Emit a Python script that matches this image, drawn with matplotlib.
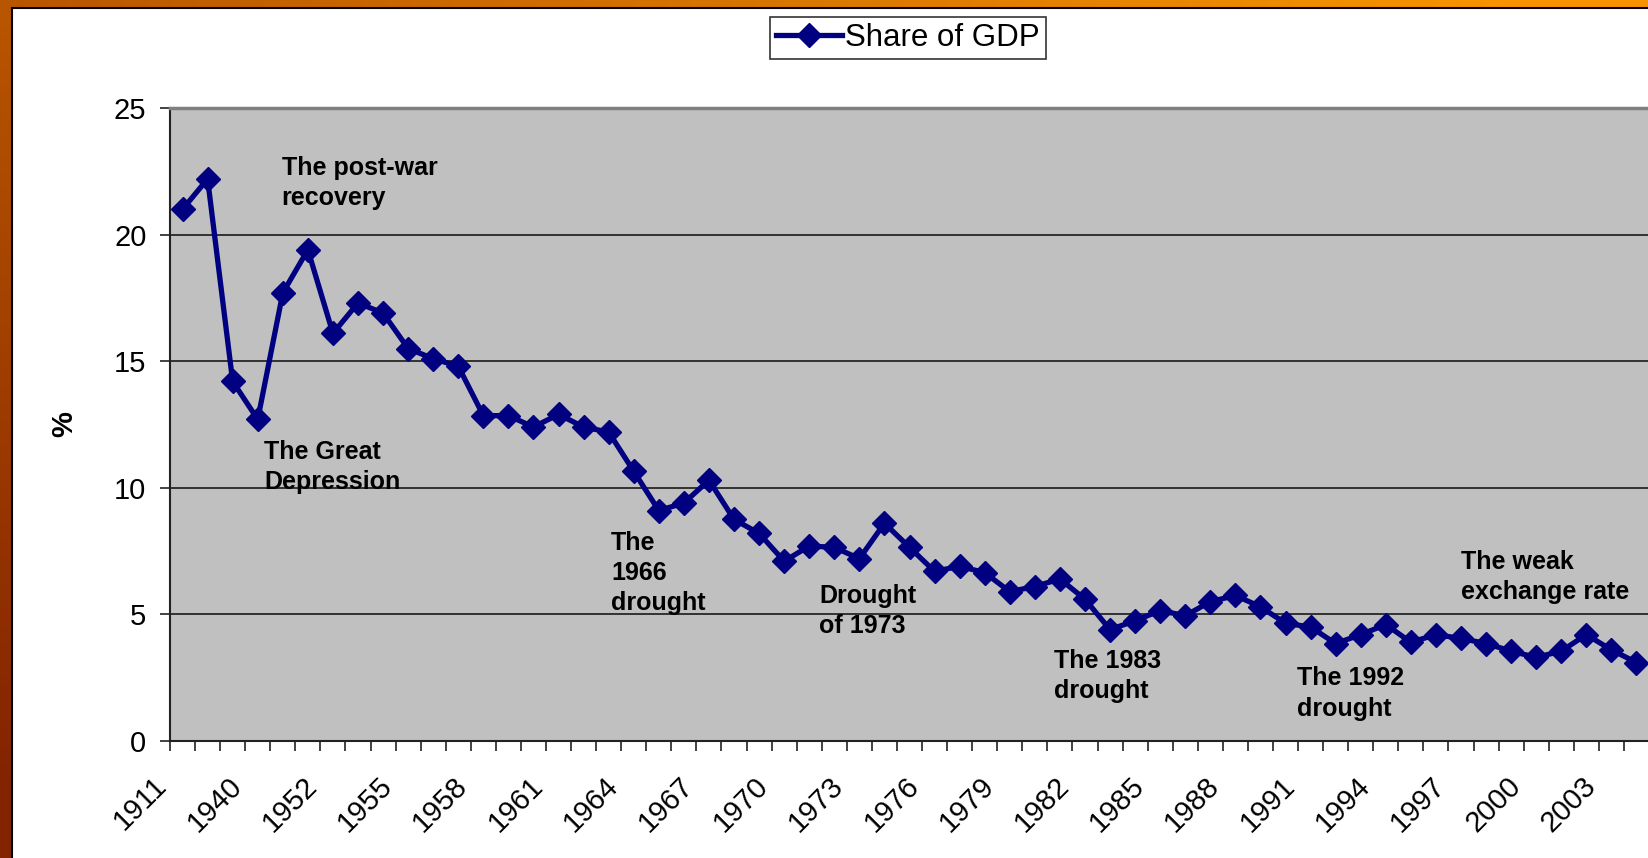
import matplotlib
matplotlib.use('Agg')
import matplotlib.pyplot as plt
import numpy as np
from matplotlib.patches import Rectangle
from matplotlib.transforms import ScaledTranslation

plt.rcParams['font.family'] = ['Liberation Sans', 'DejaVu Sans']

# data
years = ['1911', '1921', '1930', '1940', '1946', '1951'] + [str(y) for y in range(1952, 2005)]
share = [21.0, 22.2, 14.2, 12.7, 17.7, 19.4, 16.1, 17.3, 16.9, 15.5,
         15.1, 14.8, 12.85, 12.85, 12.4, 12.9, 12.4, 12.2, 10.65, 9.1,
         9.4, 10.3, 8.75, 8.2, 7.1, 7.7, 7.65, 7.2, 8.6, 7.65,
         6.7, 6.9, 6.65, 5.9, 6.1, 6.4, 5.6, 4.4, 4.75, 5.15,
         4.95, 5.5, 5.75, 5.3, 4.65, 4.5, 3.85, 4.2, 4.6, 3.9,
         4.2, 4.05, 3.85, 3.55, 3.3, 3.55, 4.2, 3.6, 3.1]
series_name = 'Share of GDP'
notes = [("The post-war\nrecovery", 3.95, 23.1),
         ("The Great\nDepression", 3.25, 11.9),
         ("The\n1966\ndrought", 17.1, 8.3),
         ("Drought\nof 1973", 25.4, 6.2),
         ("The 1983\ndrought", 34.75, 3.65),
         ("The 1992\ndrought", 44.45, 2.95),
         ("The weak\nexchange rate", 51.0, 7.55)]

W, H = 1648, 858
fig = plt.figure(figsize=(W / 100, H / 100), dpi=100)

# slide background (orange-brown gradient)
bg = fig.add_axes([0, 0, 1, 1])
gx, gy = np.meshgrid(np.linspace(0, 1, 200), np.linspace(0, 1, 100))
t = np.clip(0.6 * gx + 0.5 * (1 - gy) - 0.05, 0, 1)
dark = np.array([0.52, 0.14, 0.0])
bright = np.array([0.97, 0.58, 0.0])
img = dark[None, None, :] * (1 - t[..., None]) + bright[None, None, :] * t[..., None]
bg.imshow(img, aspect='auto', extent=[0, 1, 0, 1], origin='upper')
bg.add_patch(Rectangle((12 / W, -0.01), 1, 1.01 - 8 / H, facecolor='white',
                       edgecolor='black', linewidth=1.5))
bg.set_xlim(0, 1)
bg.set_ylim(0, 1)
bg.axis('off')

# plot area
ax = fig.add_axes([170 / W, 117 / H, 1479 / W, 633 / H])
ax.set_facecolor('#C0C0C0')
x = np.arange(len(share))
ax.plot(x, share, '-', color='#000080', linewidth=3.8, marker='D',
        markersize=12, markeredgewidth=1, label=series_name, zorder=3)

ax.set_xlim(-0.5, len(share) - 0.5)
ax.set_ylim(0, 25)
ax.set_yticks([0, 5, 10, 15, 20, 25])
ax.yaxis.grid(True, color='#1a1a1a', linewidth=1.2)
ax.set_axisbelow(True)

ax.set_xticks(x[::3])
ax.set_xticklabels(years[::3])
ax.set_xticks(np.arange(-0.5, len(share), 1), minor=True)
ax.tick_params(axis='x', which='major', length=0, pad=22, labelsize=21)
ax.tick_params(axis='x', which='minor', length=7, width=1.2, direction='out', color='#222222')
ax.tick_params(axis='y', length=7, width=1.2, direction='out', pad=10, labelsize=21, color='#222222')
shift = ScaledTranslation(-0.30, 0, fig.dpi_scale_trans)
for lab in ax.get_xticklabels():
    lab.set_rotation(45)
    lab.set_ha('right')
    lab.set_va('top')
    lab.set_rotation_mode('anchor')
    lab.set_transform(lab.get_transform() + shift)

for side in ['left', 'bottom']:
    ax.spines[side].set_color('#222222')
    ax.spines[side].set_linewidth(1.5)
ax.spines['top'].set_color('#808080')
ax.spines['top'].set_linewidth(2.5)
ax.spines['right'].set_visible(False)

ax.set_ylabel('%', fontsize=21, fontweight='bold', labelpad=26)

for txt, tx, ty in notes:
    ax.text(tx, ty, txt, fontsize=18, fontweight='bold', ha='left', va='top',
            linespacing=1.33, zorder=4)

leg = fig.legend(loc='center', bbox_to_anchor=(908 / W, 1 - 38 / H), fontsize=22.5,
                 frameon=True, fancybox=False, edgecolor='black', borderpad=0.2,
                 handlelength=2.1, handletextpad=0.1)
leg.get_frame().set_linewidth(1.2)

fig.savefig('out.png', dpi=100)
